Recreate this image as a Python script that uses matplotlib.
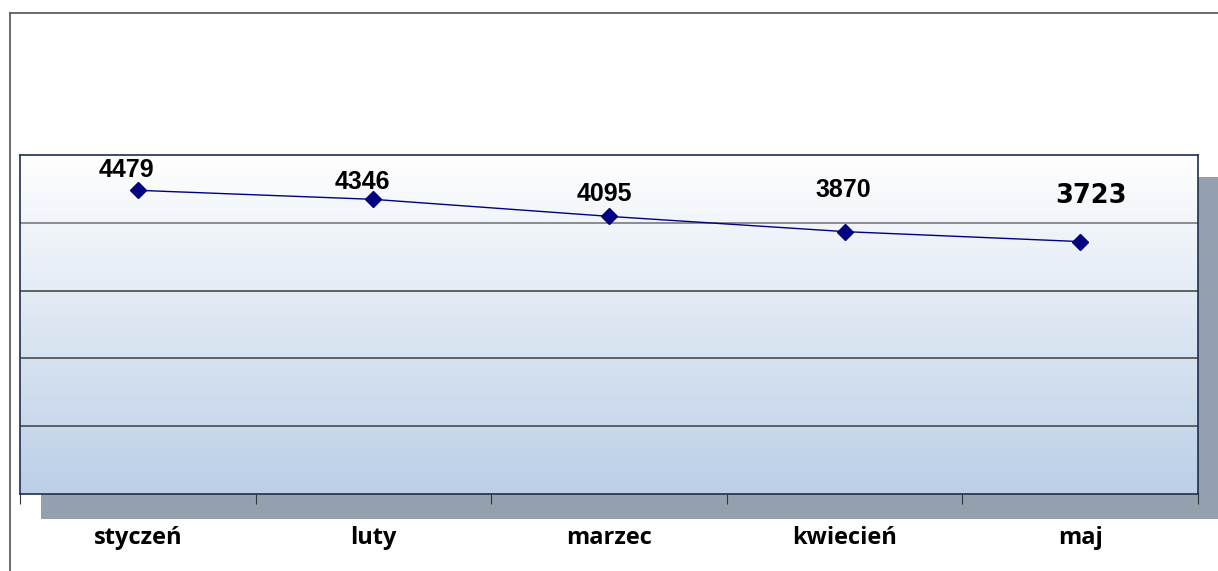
import matplotlib.pyplot as plt
import numpy as np
from matplotlib.patches import Rectangle
from matplotlib.lines import Line2D

months = ["styczeń", "luty", "marzec", "kwiecień", "maj"]
values = [4479, 4346, 4095, 3870, 3723]
# label offsets (dx in category units, dy in data units) as placed in the original
label_dx = [-0.047, -0.047, -0.02, -0.004, 0.047]
label_dy = [190, 147, 220, 515, 573]
label_fonts = ["Liberation Sans", "Liberation Sans", "Liberation Sans", "Liberation Sans", "DejaVu Sans"]
label_sizes = [18, 18, 18, 18, 18.5]

W, H = 1218, 571
fig = plt.figure(figsize=(W / 100, H / 100), dpi=100)

# outer frame (top and left edges only are visible)
fig.add_artist(Line2D([10 / W, 10 / W], [0, 1 - 13 / H], transform=fig.transFigure, color="#606060", lw=1.3))
fig.add_artist(Line2D([10 / W, 1], [1 - 13 / H, 1 - 13 / H], transform=fig.transFigure, color="#606060", lw=1.3))

# drop shadow behind the plot area
fig.add_artist(Rectangle((41 / W, 1 - 519 / H), (W - 41) / W, (519 - 177) / H,
                         transform=fig.transFigure, facecolor="#95a0ae", edgecolor="none", zorder=0))

left, top, right, bottom = 20, 155, 1198, 494
ax = fig.add_axes([left / W, 1 - bottom / H, (right - left) / W, (bottom - top) / H])
ax.set_zorder(1)

x = np.arange(len(months))
n = len(months)

# vertical gradient fill: light blue at bottom to white at top
t = np.linspace(0, 1, 256).reshape(-1, 1, 1)
top_c = np.array([1.0, 1.0, 1.0])
bot_c = np.array([0xbb, 0xcf, 0xe7]) / 255
img = bot_c + (top_c - bot_c) * t * np.ones((1, 1, 3))
ax.imshow(img, extent=[-0.5, n - 0.5, 0, 5000], origin="lower", aspect="auto", zorder=0)
ax.set_xlim(-0.5, n - 0.5)
ax.set_ylim(0, 5000)

for g in [1000, 2000, 3000, 4000]:
    ax.axhline(g, color="#4a4a4a" if g != 4000 else "#7a7a7a", lw=1.2, zorder=1)

ax.plot(x, values, color="#000080", lw=1, marker="D", markersize=8,
        markerfacecolor="#000080", markeredgecolor="#000080", zorder=3)

for i, v in enumerate(values):
    ax.text(i + label_dx[i], v + label_dy[i], str(v), ha="center", va="baseline",
            fontsize=label_sizes[i], fontweight="bold", family=label_fonts[i], zorder=4)

for s in ax.spines.values():
    s.set_color("#1f2f4f")
    s.set_linewidth(1.2)

ax.set_yticks([])
ax.set_xticks(np.arange(n + 1) - 0.5)
ax.set_xticklabels([])
ax.set_xticks(x, minor=True)
ax.set_xticklabels(months, minor=True, fontsize=17, fontweight="bold", family="Open Sans")
ax.tick_params(axis="x", which="major", length=7, color="#333333", direction="out")
ax.tick_params(axis="x", which="minor", length=0, pad=23)

fig.savefig("out.png", dpi=100)
